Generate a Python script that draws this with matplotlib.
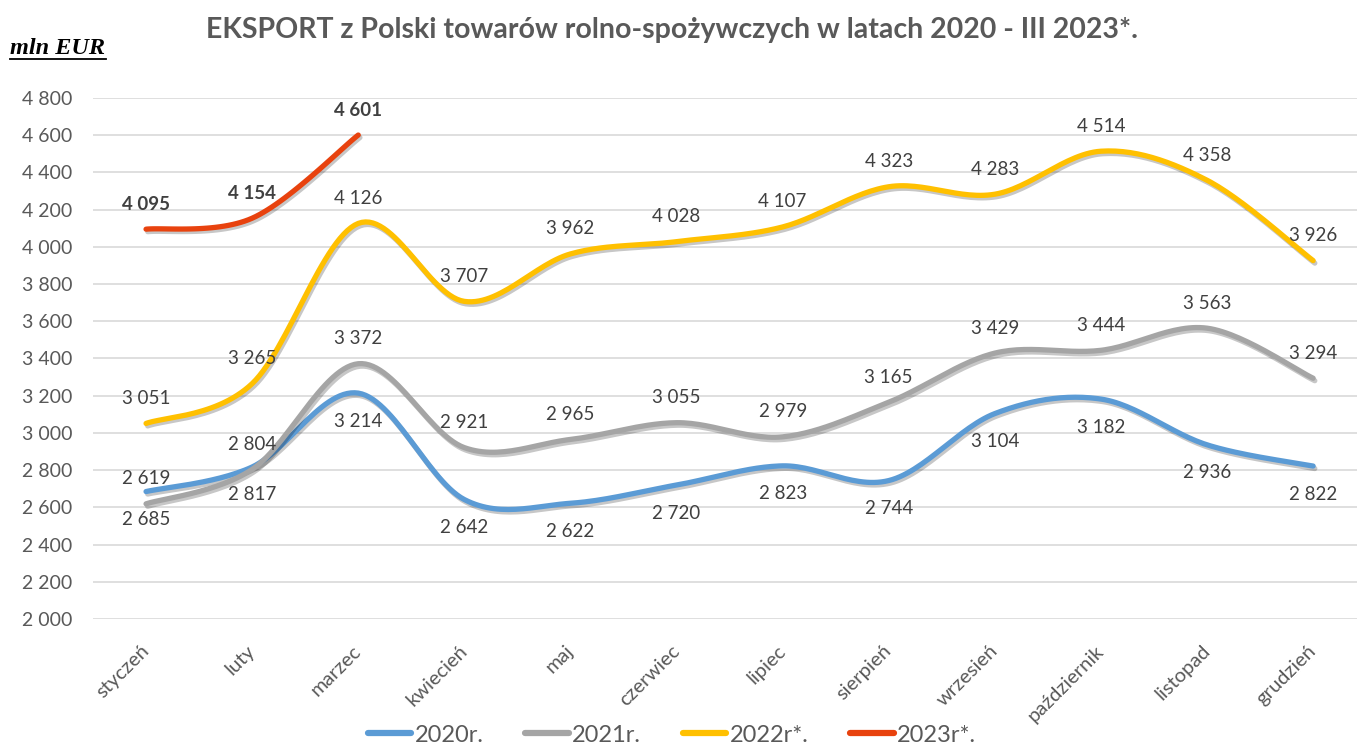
import matplotlib
matplotlib.use("Agg")
import matplotlib.pyplot as plt
import matplotlib.patheffects as pe
from matplotlib.lines import Line2D
import numpy as np

plt.rcParams["font.family"] = ["Lato", "DejaVu Sans"]

months = ["styczeń", "luty", "marzec", "kwiecień", "maj", "czerwiec",
          "lipiec", "sierpień", "wrzesień", "październik", "listopad", "grudzień"]

exp_2020 = [2685, 2817, 3214, 2642, 2622, 2720, 2823, 2744, 3104, 3182, 2936, 2822]
exp_2021 = [2619, 2804, 3372, 2921, 2965, 3055, 2979, 3165, 3429, 3444, 3563, 3294]
exp_2022 = [3051, 3265, 4126, 3707, 3962, 4028, 4107, 4323, 4283, 4514, 4358, 3926]
exp_2023 = [4095, 4154, 4601]

series = [
    ("2020r.", exp_2020, "#5B9BD5", "below", "normal"),
    ("2021r.", exp_2021, "#A5A5A5", "above", "normal"),
    ("2022r*.", exp_2022, "#FFC000", "above", "normal"),
    ("2023r*.", exp_2023, "#E8420E", "above", "bold"),
]

TXT = "#595959"
LBL = "#404040"


def smooth(y, steps=30):
    """Excel-like smoothed line (Catmull-Rom through Bezier segments)."""
    y = np.asarray(y, float)
    x = np.arange(len(y), dtype=float)
    n = len(y)
    xs, ys = [], []
    for i in range(n - 1):
        p0 = np.array([x[max(i - 1, 0)], y[max(i - 1, 0)]])
        p1 = np.array([x[i], y[i]])
        p2 = np.array([x[i + 1], y[i + 1]])
        p3 = np.array([x[min(i + 2, n - 1)], y[min(i + 2, n - 1)]])
        c1 = p1 + (p2 - p0) / 6
        c2 = p2 - (p3 - p1) / 6
        t = np.linspace(0, 1, steps)[:, None]
        b = ((1 - t) ** 3) * p1 + 3 * ((1 - t) ** 2) * t * c1 \
            + 3 * (1 - t) * t ** 2 * c2 + t ** 3 * p2
        xs.append(b[:, 0])
        ys.append(b[:, 1])
    return np.concatenate(xs), np.concatenate(ys)


def fmt(v):
    return f"{v:,}".replace(",", " ")


W, H = 1357, 747
fig = plt.figure(figsize=(W / 100, H / 100), dpi=100)
ax = fig.add_axes([93 / W, 1 - 619 / H, (W - 93) / W, 521 / H])

shadow = [pe.SimpleLineShadow(offset=(1.2, -1.8), shadow_color="black", alpha=0.22),
          pe.Normal()]

handles = []
for name, vals, col, pos, weight in series:
    sx, sy = smooth(vals)
    ax.plot(sx, sy, color=col, lw=3.8, solid_capstyle="round",
            path_effects=shadow, zorder=3)
    handles.append(Line2D([], [], color=col, lw=4.5, solid_capstyle="round", label=name))
    dy = -28 if pos == "below" else 25
    for i, v in enumerate(vals):
        ax.annotate(fmt(v), (i, v), xytext=(0, dy), textcoords="offset pixels",
                    ha="center", va="center", fontsize=13.5, color=LBL,
                    fontweight=weight, zorder=5)

ax.set_xlim(-0.5, -0.5 + (W - 93) / 106.1)
ax.set_ylim(2000, 4800)
ax.set_yticks(np.arange(2000, 4801, 200))
ax.set_yticklabels([fmt(v) for v in range(2000, 4801, 200)], fontsize=14, color=TXT)
ax.set_xticks(range(len(months)))
ax.set_xticklabels(months, fontsize=14.5, color=TXT, rotation=45,
                   ha="right", va="center", rotation_mode="anchor")
ax.tick_params(axis="both", length=0)
ax.tick_params(axis="y", pad=15)
ax.tick_params(axis="x", pad=21)
ax.grid(axis="y", color="#D9D9D9", lw=1.2)
ax.set_axisbelow(True)
for s in ax.spines.values():
    s.set_visible(False)

fig.text(672 / W, 1 - 38 / H,
         "EKSPORT z Polski towarów rolno-spożywczych w latach 2020 - III 2023*.",
         ha="center", va="baseline", fontsize=20.5, fontweight="bold", color=TXT)

fig.text(10 / W, 1 - 54 / H, "mln EUR", ha="left", va="baseline",
         family=["Liberation Serif", "DejaVu Serif"], fontsize=17.5,
         fontweight="bold", fontstyle="italic", color="black")
fig.add_artist(Line2D([10 / W, 106 / W], [1 - 59 / H, 1 - 59 / H],
                      transform=fig.transFigure, color="black", lw=1.3))

fig.legend(handles=handles, loc="center", bbox_to_anchor=(672 / W, 1 - 735 / H),
           ncol=4, frameon=False, fontsize=17, labelcolor=TXT,
           handlelength=1.85, handletextpad=0.15, columnspacing=1.75)

fig.savefig("out.png", dpi=100)
